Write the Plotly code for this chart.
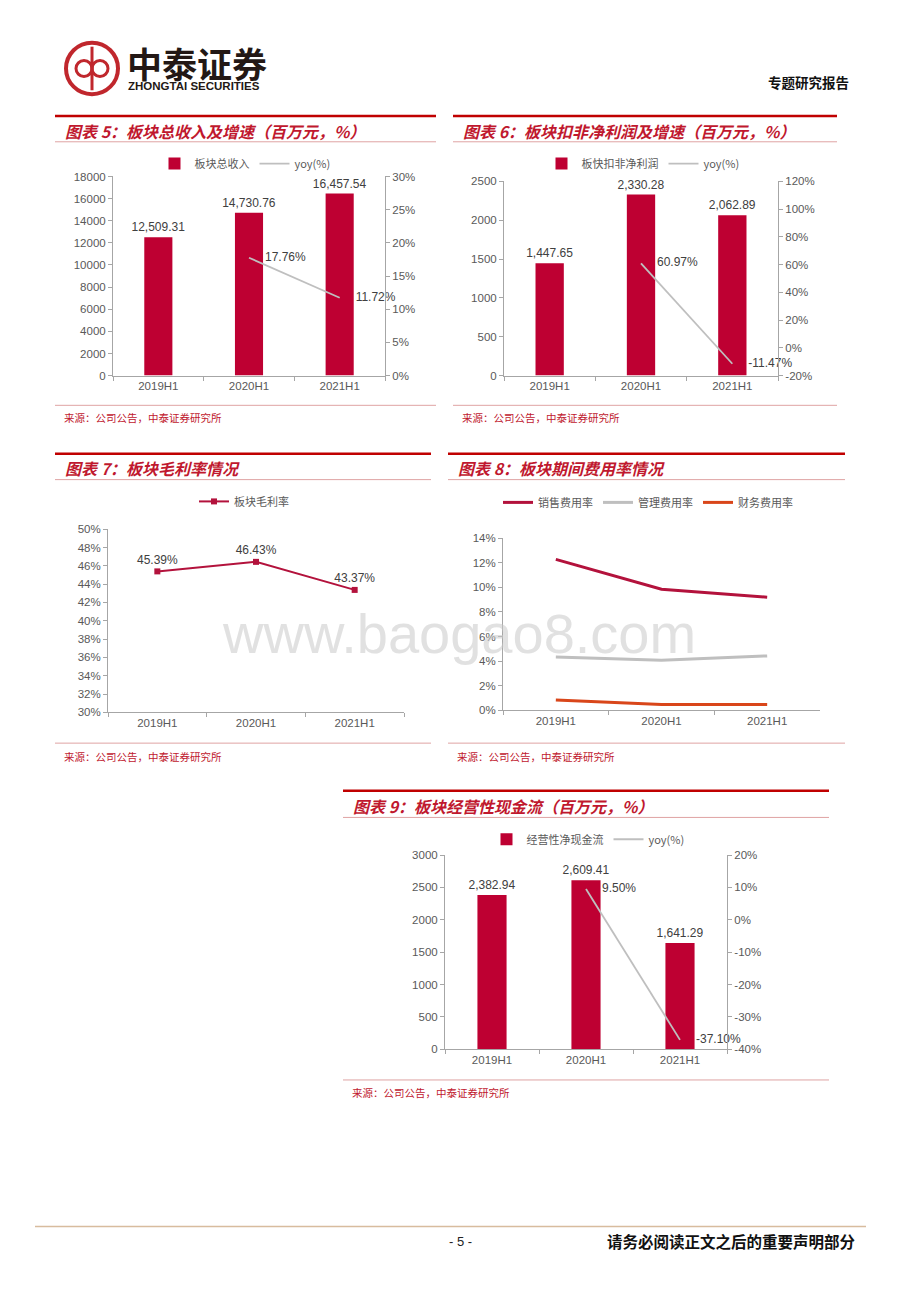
import plotly.graph_objects as go

# The page body keeps the browser's default 8px margin, so the figure is
# sized to fill the remaining viewport and page pixels are offset by 8.
OFF = 8
FW, FH = 920 - 2 * OFF, 1302 - 2 * OFF
def X(px): return (px - OFF) / FW
def Y(py): return 1 - (py - OFF) / FH

# ---------------- data ----------------
periods = ["2019H1", "2020H1", "2021H1"]
yoy_periods = ["2020H1", "2021H1"]

revenue = [12509.31, 14730.76, 16457.54]
revenue_yoy = [0.1776, 0.1172]

profit = [1447.65, 2330.28, 2062.89]
profit_yoy = [0.6097, -0.1147]

gross_margin = [0.4539, 0.4643, 0.4337]

sales_rate = [0.1227, 0.0984, 0.0920]
admin_rate = [0.0435, 0.0408, 0.0443]
fin_rate = [0.0084, 0.0049, 0.0049]

cashflow = [2382.94, 2609.41, 1641.29]
cashflow_yoy = [0.0950, -0.3710]

# right-axis tick values (percent axes)
ticks_rev_yoy = [0, 0.05, 0.10, 0.15, 0.20, 0.25, 0.30]
ticks_profit_yoy = [-0.2, 0, 0.2, 0.4, 0.6, 0.8, 1.0, 1.2]
ticks_cash_yoy = [-0.4, -0.3, -0.2, -0.1, 0, 0.1, 0.2]

# ---------------- styles ----------------
BAR = "#BE0032"
GRAY = "#BFBFBF"
CRIMSON = "#B3123C"
ORANGE = "#D9461A"
AXIS = "#A6A6A6"
TICKC = "#595959"
LBL = "#404040"
TITLE_RED = "#C0182E"
NUMF = "Liberation Sans, Arial, sans-serif"
CJK = "Noto Sans CJK SC, sans-serif"

def pct(v, d):
    return f"{v * 100:.{d}f}%"

fig = go.Figure()

def bar(x, y, xa, ya, name, leg):
    fig.add_trace(go.Bar(
        x=x, y=y, xaxis=xa, yaxis=ya, name=name, legend=leg,
        marker=dict(color=BAR, line=dict(width=0)), width=0.31,
        texttemplate="%{y:,.2f}", textposition="outside", cliponaxis=False,
        constraintext="none",
        textfont=dict(family=NUMF, size=12, color=LBL)))

def yoy(x, y, xa, ya, leg):
    fig.add_trace(go.Scatter(
        x=x, y=y, xaxis=xa, yaxis=ya, name="yoy(%)", legend=leg,
        mode="lines+markers+text",
        line=dict(color=GRAY, width=1.8),
        marker=dict(size=24, color="rgba(0,0,0,0)"),
        text=[pct(v, 2) for v in y], textposition="middle right", cliponaxis=False,
        textfont=dict(family=NUMF, size=12, color=LBL)))

# chart 5
bar(periods, revenue, "x", "y", "板块总收入", "legend")
yoy(yoy_periods, revenue_yoy, "x", "y2", "legend")
# chart 6
bar(periods, profit, "x2", "y3", "板快扣非净利润", "legend2")
yoy(yoy_periods, profit_yoy, "x2", "y4", "legend2")
# chart 7
fig.add_trace(go.Scatter(
    x=periods, y=gross_margin, xaxis="x3", yaxis="y5", name="板块毛利率", legend="legend3",
    mode="lines+markers+text", line=dict(color=CRIMSON, width=2),
    marker=dict(symbol="square", size=6, color=CRIMSON),
    text=[pct(v, 2) for v in gross_margin], textposition="top center", cliponaxis=False,
    textfont=dict(family=NUMF, size=12, color=LBL)))
# chart 8
for name, vals, col in [("销售费用率", sales_rate, CRIMSON),
                        ("管理费用率", admin_rate, GRAY),
                        ("财务费用率", fin_rate, ORANGE)]:
    fig.add_trace(go.Scatter(
        x=periods, y=vals, xaxis="x4", yaxis="y6", name=name, legend="legend4",
        mode="lines", line=dict(color=col, width=3)))
# chart 9
bar(periods, cashflow, "x5", "y7", "经营性净现金流", "legend5")
yoy(yoy_periods, cashflow_yoy, "x5", "y8", "legend5")

# ---------------- axes ----------------
tickfont = dict(family=NUMF, size=11.5, color=TICKC)

def xax(d0, d1, anchor):
    return dict(domain=[X(d0), X(d1)], anchor=anchor, type="category",
                categoryorder="array", categoryarray=periods, range=[-0.5, 2.5],
                showline=True, linecolor=AXIS, linewidth=1, ticks="outside",
                tickson="boundaries", ticklen=4, tickcolor=AXIS,
                showgrid=False, zeroline=False, tickfont=tickfont, fixedrange=True)

def yax(top, bot, anchor, rng, dtick, fmt="d"):
    return dict(domain=[Y(bot), Y(top)], anchor=anchor, range=rng, dtick=dtick,
                tickformat=fmt,
                showline=True, linecolor=AXIS, linewidth=1, ticks="outside",
                ticklen=4, tickcolor=AXIS, showgrid=False, zeroline=False,
                tickfont=tickfont, fixedrange=True)

def yax_right(over, anchor, tv):
    return dict(overlaying=over, side="right", anchor=anchor, range=[tv[0], tv[-1]],
                tickmode="array", tickvals=tv, ticktext=[pct(v, 0) for v in tv],
                showline=True, linecolor=AXIS, linewidth=1,
                ticks="outside", ticklen=4, tickcolor=AXIS, showgrid=False,
                zeroline=False, tickfont=tickfont, fixedrange=True)

fig.update_layout(
    xaxis=xax(113, 385, "y"),
    yaxis=yax(172, 373, "x", [0, 18000], 2000),
    yaxis2=yax_right("y", "x", ticks_rev_yoy),
    xaxis2=xax(504, 778, "y3"),
    yaxis3=yax(177, 373, "x2", [0, 2500], 500),
    yaxis4=yax_right("y3", "x2", ticks_profit_yoy),
    xaxis3=xax(108, 404, "y5"),
    yaxis5=yax(528, 713, "x3", [0.30, 0.50], 0.02, ".0%"),
    xaxis4=xax(503, 820, "y6"),
    yaxis6=yax(537, 711, "x4", [0, 0.14], 0.02, ".0%"),
    xaxis5=xax(445, 727, "y7"),
    yaxis7=yax(857, 1053, "x5", [0, 3000], 500),
    yaxis8=yax_right("y7", "x5", ticks_cash_yoy),
)

# ---------------- legends ----------------
def legend(cx, cy):
    return dict(orientation="h", x=X(cx), y=Y(cy), xanchor="center", yanchor="middle",
                font=dict(family=CJK, size=11, color=TICKC), itemwidth=30,
                bgcolor="rgba(0,0,0,0)", traceorder="normal")

fig.update_layout(
    legend=legend(245, 159),
    legend2=legend(643, 159),
    legend3=legend(244, 500),
    legend4=legend(648, 501),
    legend5=legend(588, 841),
)

# ---------------- frames, titles, sources ----------------
shapes = []
annotations = []

def frame(x0, x1, top, thin, bottom, title, title_y, src_y):
    shapes.append(dict(type="line", xref="paper", yref="paper",
                       x0=X(x0), x1=X(x1), y0=Y(top), y1=Y(top),
                       line=dict(color="#C00000", width=2.5)))
    for yy in (thin, bottom):
        shapes.append(dict(type="line", xref="paper", yref="paper",
                           x0=X(x0), x1=X(x1), y0=Y(yy), y1=Y(yy),
                           line=dict(color="#DFA3A3", width=1)))
    annotations.append(dict(xref="paper", yref="paper", x=X(x0 + 8), y=Y(title_y),
                            xanchor="left", yanchor="middle", showarrow=False,
                            text=title,
                            font=dict(family=CJK, size=16, color=TITLE_RED,
                                      weight="bold", style="italic")))
    annotations.append(dict(xref="paper", yref="paper", x=X(x0 + 7), y=Y(src_y),
                            xanchor="left", yanchor="middle", showarrow=False,
                            text="来源：公司公告，中泰证券研究所",
                            font=dict(family=CJK, size=10.5, color=TITLE_RED)))

frame(55, 436, 111, 137, 403, "图表 5：板块总收入及增速（百万元，%）", 126, 415)
frame(453, 837, 111, 137, 403, "图表 6：板块扣非净利润及增速（百万元，%）", 126, 415)
frame(55, 431, 452, 478, 744, "图表 7：板块毛利率情况", 466, 757)
frame(448, 845, 452, 478, 744, "图表 8：板块期间费用率情况", 466, 757)
frame(343, 829, 792, 819, 1084, "图表 9：板块经营性现金流（百万元，%）", 807, 1097)

# header logo
LOGO = "#C0272D"
shapes.append(dict(type="circle", xref="paper", yref="paper",
                   x0=X(66), x1=X(118), y0=Y(89), y1=Y(37),
                   line=dict(color=LOGO, width=4)))
shapes.append(dict(type="line", xref="paper", yref="paper",
                   x0=X(92), x1=X(92), y0=Y(41), y1=Y(85),
                   line=dict(color=LOGO, width=3)))
shapes.append(dict(type="circle", xref="paper", yref="paper",
                   x0=X(76), x1=X(92), y0=Y(71), y1=Y(55),
                   line=dict(color=LOGO, width=3)))
shapes.append(dict(type="circle", xref="paper", yref="paper",
                   x0=X(92), x1=X(108), y0=Y(71), y1=Y(55),
                   line=dict(color=LOGO, width=3)))
annotations.append(dict(xref="paper", yref="paper", x=X(125), y=Y(57),
                        xanchor="left", yanchor="middle", showarrow=False,
                        text="中泰证券",
                        font=dict(family=CJK, size=35, color="#231815", weight="bold")))
annotations.append(dict(xref="paper", yref="paper", x=X(126), y=Y(81),
                        xanchor="left", yanchor="middle", showarrow=False,
                        text="ZHONGTAI SECURITIES",
                        font=dict(family="Liberation Sans Narrow, Liberation Sans, sans-serif",
                                  size=11.5, color="#231815", weight="bold")))
annotations.append(dict(xref="paper", yref="paper", x=X(851), y=Y(77),
                        xanchor="right", yanchor="middle", showarrow=False,
                        text="专题研究报告",
                        font=dict(family=CJK, size=13.5, color="#111111", weight="bold")))

# watermark
annotations.append(dict(xref="paper", yref="paper", x=X(459), y=Y(633),
                        xanchor="center", yanchor="middle", showarrow=False,
                        text="www.baogao8.com",
                        font=dict(family=NUMF, size=56, color="rgba(200,200,200,0.55)")))

# footer
shapes.append(dict(type="line", xref="paper", yref="paper",
                   x0=X(35), x1=X(866), y0=Y(1232), y1=Y(1232),
                   line=dict(color="#D8BC9E", width=1.5)))
annotations.append(dict(xref="paper", yref="paper", x=X(460), y=Y(1247),
                        xanchor="center", yanchor="middle", showarrow=False,
                        text="- 5 -", font=dict(family=NUMF, size=13, color="#222222")))
annotations.append(dict(xref="paper", yref="paper", x=X(858), y=Y(1247),
                        xanchor="right", yanchor="middle", showarrow=False,
                        text="请务必阅读正文之后的重要声明部分",
                        font=dict(family=CJK, size=15.5, color="#111111", weight="bold")))

fig.update_layout(
    width=FW, height=FH, margin=dict(l=0, r=0, t=0, b=0),
    paper_bgcolor="white", plot_bgcolor="white",
    showlegend=True, shapes=shapes, annotations=annotations,
    font=dict(family=NUMF, color=TICKC),
)

fig.write_html("out.html")
